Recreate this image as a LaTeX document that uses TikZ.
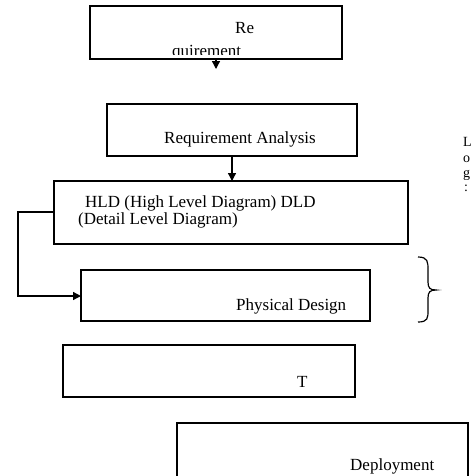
\documentclass[tikz,border=0pt]{standalone}
\usepackage{fontspec}
\setmainfont{Liberation Serif}
\usetikzlibrary{arrows.meta}
\tikzset{
  boxline/.style={line width=1.5pt, draw=black},
  conn/.style={line width=1.3pt, draw=black, -{Triangle[length=8pt,width=8pt]}},
  lbl/.style={anchor=base west, inner sep=0pt, font=\fontsize{17}{20}\selectfont},
  loglbl/.style={anchor=base west, inner sep=0pt, font=\fontsize{14}{15}\selectfont},
}
\begin{document}
\begin{tikzpicture}[x=1pt,y=-1pt]
\useasboundingbox (0,0) rectangle (476,475);
% box 1
\draw[boxline] (90,6) rectangle (342,59);
\coordinate (b1s) at (216,59);
\coordinate (b1e) at (216,69);
\node[lbl] (re) at (235,33) {Re};
\begin{scope}
\clip (60,40) rectangle (340,54);
\node[lbl] (quir) at (172,56) {quirement};
\end{scope}
\draw[conn] (b1s) -- (b1e);
% box 2
\draw[boxline] (107,104) rectangle (357,156);
\node[lbl] (ra) at (164,143) {Requirement Analysis};
\coordinate (b2s) at (232,156);
% box 3
\draw[boxline] (54,181) rectangle (408,244);
\coordinate (b3n) at (232,181);
\coordinate (b3w) at (54,212);
\node[lbl] (hld1) at (85,207) {HLD (High Level Diagram) DLD};
\node[lbl] (hld2) at (78,224) {(Detail Level Diagram)};
\draw[conn] (b2s) -- (b3n);
% box 4
\draw[boxline] (81,270) rectangle (370,321);
\coordinate (b4w) at (81,296);
\node[lbl] (pd) at (236,310) {Physical Design};
\draw[conn] (b3w) -- (18,212) -- (18,296) -- (b4w);
% brace
\draw[line width=1.2pt] (418,257) .. controls (428,257) and (428,262) .. (428,270)
  -- (428,282) .. controls (428,288) and (430,290) .. (436,290)
  .. controls (430,290) and (428,292) .. (428,298) -- (428,310)
  .. controls (428,318) and (428,322) .. (418,322);
% Log
\node[loglbl] (l1) at (463,146) {L};
\node[loglbl] (l2) at (463,162) {o};
\node[loglbl] (l3) at (463,177) {g};
\node[loglbl] (l4) at (464,191) {:};
% box 5
\draw[boxline] (63,345) rectangle (355,397);
\node[lbl] (t) at (297,387) {T};
% box 6
\draw[boxline] (468,480) -- (468,423) -- (177,423) -- (177,480);
\node[lbl] (dep) at (350,470) {Deployment};
\end{tikzpicture}
\end{document}
